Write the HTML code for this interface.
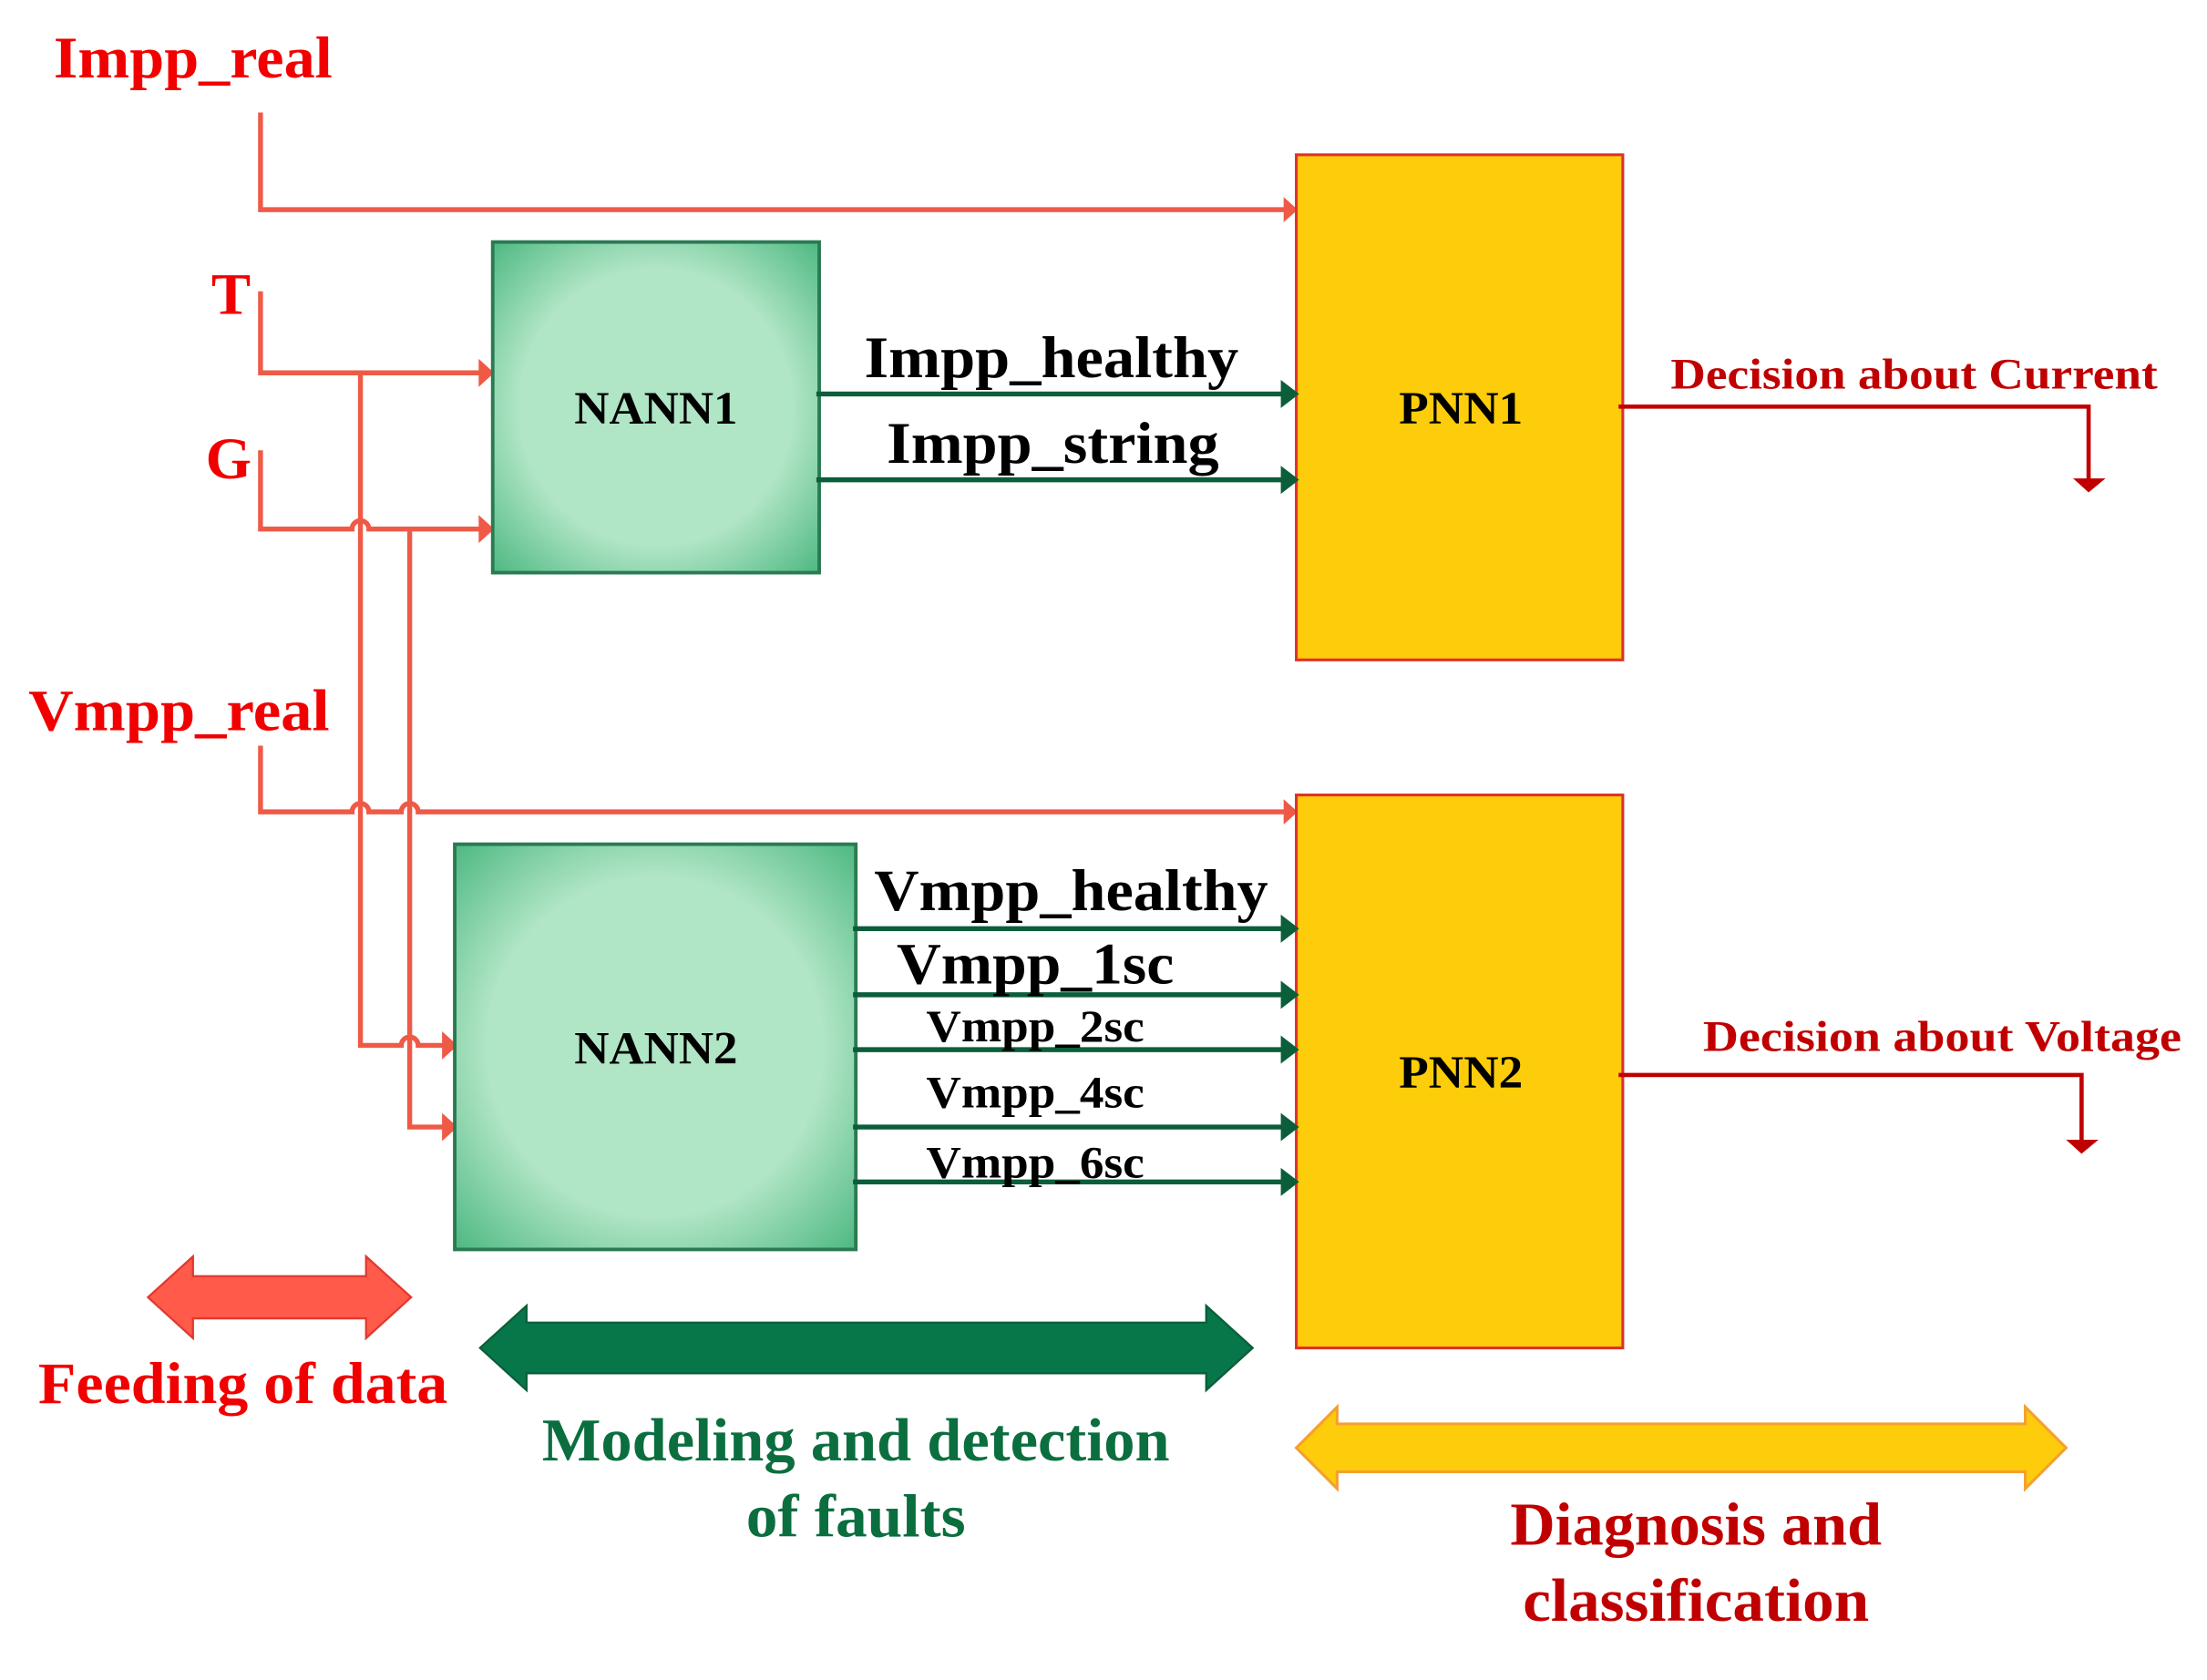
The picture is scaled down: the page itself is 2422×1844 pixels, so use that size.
<!DOCTYPE html>
<html><head><meta charset="utf-8"><style>html,body{margin:0;padding:0;background:#fff;}svg{display:block;}</style></head>
<body>
<svg width="2422" height="1844" viewBox="0 0 1568 1194" xmlns="http://www.w3.org/2000/svg" font-family="'Liberation Serif', serif" font-weight="bold">
<defs>
<radialGradient id="g1" cx="50%" cy="50%" r="70%"><stop offset="0.6" stop-color="#b0e5c5"/><stop offset="1" stop-color="#4fb983"/></radialGradient>
</defs>
<g stroke="#ef5a47" stroke-width="3.5" fill="none">
<path d="M185,80 V149 H916"/>
<path d="M185,207 V265 H345"/>
<path d="M185,320 V376 H250 a6,6 0 0 1 12,0 H345"/>
<path d="M185,530 V577 H250 a6,6 0 0 1 12,0 H285 a6,6 0 0 1 12,0 H916"/>
<path d="M256,265 V743 H285 a6,6 0 0 1 12,0 H320"/>
<path d="M291,376 V801 H320"/>
</g>
<g fill="#ef5a47">
<path d="M912,140 L922,149 L912,158Z"/><path d="M340,255 L351,265 L340,275Z"/><path d="M340,366 L351,376 L340,386Z"/>
<path d="M912,568 L922,577 L912,586Z"/><path d="M314,733 L325,743 L314,753Z"/><path d="M314,791 L325,801 L314,811Z"/>
</g>
<g fill="#f20000" font-size="42">
<text x="38" y="55" textLength="198" lengthAdjust="spacingAndGlyphs">Impp_real</text>
<text x="150" y="223">T</text>
<text x="146" y="340">G</text>
<text x="20" y="519" textLength="214" lengthAdjust="spacingAndGlyphs">Vmpp_real</text>
</g>
<rect x="350" y="172" width="232" height="235" fill="url(#g1)" stroke="#2a7a52" stroke-width="2.5"/>
<rect x="323" y="600" width="285" height="288" fill="url(#g1)" stroke="#2a7a52" stroke-width="2.5"/>
<g font-size="33" fill="#000" text-anchor="middle"><text x="466" y="301" textLength="116" lengthAdjust="spacingAndGlyphs">NANN1</text><text x="466" y="756" textLength="116" lengthAdjust="spacingAndGlyphs">NANN2</text></g>
<rect x="921" y="110" width="232" height="359" fill="#fdcc0a" stroke="#e0302a" stroke-width="2"/>
<rect x="921" y="565" width="232" height="393" fill="#fdcc0a" stroke="#e0302a" stroke-width="2"/>
<g font-size="33" fill="#000" text-anchor="middle"><text x="1038" y="301" textLength="88" lengthAdjust="spacingAndGlyphs">PNN1</text><text x="1038" y="773" textLength="88" lengthAdjust="spacingAndGlyphs">PNN2</text></g>
<g stroke="#0b5e3a" stroke-width="3.5"><path d="M580,280 H914 M580,341 H914 M606,660 H914 M606,707 H914 M606,746 H914 M606,801 H914 M606,840 H914"/></g>
<g fill="#0b5e3a"><path d="M910,270 L923,280 L910,290Z M910,331 L923,341 L910,351Z M910,650 L923,660 L910,670Z M910,697 L923,707 L910,717Z M910,736 L923,746 L910,756Z M910,791 L923,801 L910,811Z M910,830 L923,840 L910,850Z"/></g>
<g fill="#000">
<text x="614" y="268" font-size="42" textLength="266" lengthAdjust="spacingAndGlyphs">Impp_healthy</text>
<text x="630" y="329" font-size="42" textLength="236" lengthAdjust="spacingAndGlyphs">Impp_string</text>
<text x="621" y="647" font-size="42" textLength="280" lengthAdjust="spacingAndGlyphs">Vmpp_healthy</text>
<text x="637" y="699" font-size="42" textLength="197" lengthAdjust="spacingAndGlyphs">Vmpp_1sc</text>
<text x="658" y="740" font-size="32" textLength="155" lengthAdjust="spacingAndGlyphs">Vmpp_2sc</text>
<text x="658" y="787" font-size="32" textLength="155" lengthAdjust="spacingAndGlyphs">Vmpp_4sc</text>
<text x="658" y="837" font-size="32" textLength="155" lengthAdjust="spacingAndGlyphs">Vmpp_6sc</text>
</g>
<g stroke="#c00000" stroke-width="3" fill="none"><path d="M1150,289 H1484 V342"/><path d="M1150,764 H1479 V812"/></g>
<g fill="#c00000"><path d="M1473,340 L1496,340 L1484,350Z"/><path d="M1468,810 L1491,810 L1479,820Z"/></g>
<g fill="#c00000" font-size="31">
<text x="1187" y="276" textLength="346" lengthAdjust="spacingAndGlyphs">Decision about Current</text>
<text x="1210" y="747" textLength="340" lengthAdjust="spacingAndGlyphs">Decision about Voltage</text>
</g>
<path d="M105,922 L137,893 L137,907 L260,907 L260,893 L292,922 L260,951 L260,937 L137,937 L137,951Z" fill="#ff5a4a" stroke="#e03a30" stroke-width="1.5"/>
<path d="M341,958 L374,928 L374,940 L857,940 L857,928 L890,958 L857,988 L857,976 L374,976 L374,988Z" fill="#07774a" stroke="#0b5e3a" stroke-width="1.5"/>
<path d="M921,1029 L950,1000 L950,1012 L1439,1012 L1439,1000 L1468,1029 L1439,1058 L1439,1046 L950,1046 L950,1058Z" fill="#fdcc0a" stroke="#f4a030" stroke-width="2"/>
<text x="27" y="997" font-size="42" fill="#f20000" textLength="291" lengthAdjust="spacingAndGlyphs">Feeding of data</text>
<g font-size="43" fill="#0b6e3f" text-anchor="middle">
<text x="608" y="1038" textLength="446" lengthAdjust="spacingAndGlyphs">Modeling and detection</text>
<text x="608" y="1092" textLength="156" lengthAdjust="spacingAndGlyphs">of faults</text>
</g>
<g font-size="43" fill="#c00000" text-anchor="middle">
<text x="1205" y="1098" textLength="264" lengthAdjust="spacingAndGlyphs">Diagnosis and</text>
<text x="1205" y="1152" textLength="246" lengthAdjust="spacingAndGlyphs">classification</text>
</g>
</svg>
</body></html>
